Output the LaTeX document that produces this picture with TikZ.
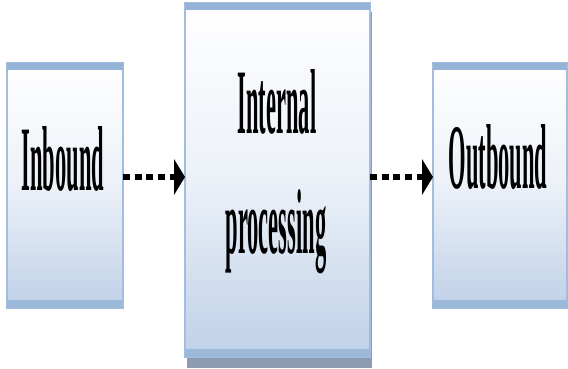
\documentclass[tikz,border=0pt]{standalone}
\usepackage{fontspec}
\setmainfont{Liberation Serif}
\definecolor{bandblue}{HTML}{95B3D7}
\definecolor{edgeblue}{HTML}{A3BDDF}
\definecolor{fillbot}{HTML}{BFD0E8}
\definecolor{shadowgray}{HTML}{8E9CB1}
\tikzset{
  box/.style={rectangle, inner sep=0pt, outer sep=0pt, draw=edgeblue, line width=1.5pt,
    top color=white, bottom color=fillbot, middle color=white!70!fillbot},
  topband/.style={fill=bandblue},
  botband/.style={fill=bandblue!80!fillbot},
  lbl/.style={anchor=base, inner sep=0pt, font=\bfseries\fontsize{22.5}{24}\selectfont},
  flowline/.style={line width=6pt, dash pattern=on 7pt off 4.7pt},
  flowhead/.style={fill=black}
}
\newcommand{\tall}[1]{\scalebox{1}[4.1]{#1}}
\begin{document}
\begin{tikzpicture}[x=1pt,y=-1pt]
\useasboundingbox (0,0) rectangle (568,369);
% shadow of the middle box
\fill[shadowgray] (187,355) rectangle (372,368);
\fill[shadowgray] (369,12) rectangle (372,357);
% boxes
\node[box, minimum width=116pt, minimum height=245pt] (in) at (65,185.5) {};
\node[box, minimum width=185pt, minimum height=354pt] (mid) at (277.5,180) {};
\node[box, minimum width=134pt, minimum height=245pt] (out) at (500,185.5) {};
% top and bottom bands
\foreach \n in {in,mid,out}{
  \fill[topband] (\n.north west) rectangle ([yshift=-7pt]\n.north east);
  \fill[botband] ([yshift=8pt]\n.south west) rectangle (\n.south east);
}
% labels
\node[lbl] (tin) at (63,190) {\tall{Inbound}};
\node[lbl] (tmid1) at (277,133) {\tall{Internal}};
\node[lbl] (tmid2) at (276,253) {\tall{processing}};
\node[lbl] (tout) at (498,188) {\tall{Outbound}};
% connectors
\coordinate (t1) at ([yshift=3pt]mid.west);
\coordinate (t2) at ([yshift=3pt]out.west |- mid.east);
\draw[flowline] ([yshift=3pt]in.east |- mid.west) -- ([xshift=-10pt]t1);
\fill[flowhead] (t1) -- ++(-11,-18) -- ++(0,36) -- cycle;
\draw[flowline] ([yshift=3pt]mid.east) -- ([xshift=-10pt]t2);
\fill[flowhead] (t2) -- ++(-11,-18) -- ++(0,36) -- cycle;
\end{tikzpicture}
\end{document}
